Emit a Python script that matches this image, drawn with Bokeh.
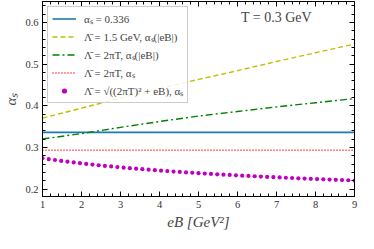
from bokeh.plotting import figure
from bokeh.models import Range1d, LinearAxis, Legend, LegendItem, Label, FixedTicker, CustomJSTickFormatter
from bokeh.embed import file_html
from bokeh.resources import INLINE

# Data
eb_int = [1, 2, 3, 4, 5, 6, 7, 8, 9]
alpha_const = [0.336] * 9
alpha_15gev = [0.370, 0.394, 0.418, 0.441, 0.463, 0.484, 0.506, 0.527, 0.548]
alpha_2piT_eB = [0.320, 0.333, 0.348, 0.362, 0.375, 0.386, 0.397, 0.407, 0.417]
alpha_2piT = [0.293] * 9

eb_dots = [1.00, 1.16, 1.32, 1.48, 1.64, 1.80, 1.96, 2.12, 2.28, 2.44,
           2.60, 2.76, 2.92, 3.08, 3.24, 3.40, 3.56, 3.72, 3.88, 4.04,
           4.20, 4.36, 4.52, 4.68, 4.84, 5.00, 5.16, 5.32, 5.48, 5.64,
           5.80, 5.96, 6.12, 6.28, 6.44, 6.60, 6.76, 6.92, 7.08, 7.24,
           7.40, 7.56, 7.72, 7.88, 8.04, 8.20, 8.36, 8.52, 8.68, 8.84, 9.00]
alpha_sqrt = [0.2740, 0.2717, 0.2696, 0.2675, 0.2656, 0.2637, 0.2620, 0.2603, 0.2586, 0.2570,
              0.2555, 0.2541, 0.2527, 0.2513, 0.2500, 0.2487, 0.2475, 0.2463, 0.2452, 0.2441,
              0.2430, 0.2419, 0.2409, 0.2399, 0.2390, 0.2380, 0.2371, 0.2362, 0.2353, 0.2345,
              0.2337, 0.2329, 0.2321, 0.2313, 0.2306, 0.2298, 0.2291, 0.2284, 0.2277, 0.2270,
              0.2264, 0.2257, 0.2251, 0.2245, 0.2239, 0.2233, 0.2227, 0.2221, 0.2215, 0.2210, 0.2204]

x_ticks = [1, 2, 3, 4, 5, 6, 7, 8, 9]
y_ticks = [0.2, 0.3, 0.4, 0.5, 0.6]

labels = ["αₛ = 0.336",
          "Λ̄ = 1.5 GeV, αₛ(|eB|)",
          "Λ̄ = 2πT, αₛ(|eB|)",
          "Λ̄ = 2πT, αₛ",
          "Λ̄ = √((2πT)² + eB), αₛ"]

FONT = "Liberation Serif"

p = figure(width=358, height=240,
           output_backend="svg", toolbar_location=None,
           x_range=Range1d(1, 9), y_range=Range1d(0.182, 0.65),
           min_border_left=36, min_border_top=1, min_border_right=4, min_border_bottom=44)
p.grid.visible = False
p.outline_line_color = "black"
p.outline_line_width = 1
p.background_fill_color = "white"
p.border_fill_color = "white"

r1 = p.line(eb_int, alpha_const, line_color="#1f77b4", line_width=1.6)
r2 = p.line(eb_int, alpha_15gev, line_color="#bfbf00", line_width=1.4, line_dash="5 3")
r3 = p.line(eb_int, alpha_2piT_eB, line_color="#008000", line_width=1.4, line_dash="7 3 2 3")
r4 = p.line(eb_int, alpha_2piT, line_color="#ff0000", line_width=1.4, line_dash="1 2")
r5 = p.scatter(eb_dots, alpha_sqrt, size=4.2, color="#bf00bf", line_color=None)

def style_axis(ax):
    ax.axis_line_color = "black"
    ax.major_tick_in = 5
    ax.major_tick_out = 0
    ax.minor_tick_in = 3
    ax.minor_tick_out = 0
    ax.major_tick_line_color = "black"
    ax.minor_tick_line_color = "black"
    ax.major_label_text_font = FONT
    ax.major_label_text_font_size = "10.5px"
    ax.major_label_text_color = "#333333"
    ax.major_label_standoff = 4
    ax.axis_label_text_font = FONT
    ax.axis_label_text_font_style = "italic"
    ax.axis_label_text_font_size = "15px"
    ax.axis_label_standoff = 3

x_minor = [1 + 0.2 * i for i in range(41)]
y_minor = [0.18 + 0.02 * i for i in range(25)]

p.xaxis.ticker = FixedTicker(ticks=x_ticks, minor_ticks=x_minor)
p.yaxis.ticker = FixedTicker(ticks=y_ticks, minor_ticks=y_minor)
style_axis(p.xaxis[0])
style_axis(p.yaxis[0])
p.xaxis.axis_label = "eB [GeV²]"
p.yaxis.axis_label = "αₛ"

blank = CustomJSTickFormatter(code="return '';")
ax_top = LinearAxis(ticker=FixedTicker(ticks=x_ticks, minor_ticks=x_minor), formatter=blank)
style_axis(ax_top)
ax_top.major_label_standoff = 0
p.add_layout(ax_top, "above")
ax_right = LinearAxis(ticker=FixedTicker(ticks=y_ticks, minor_ticks=y_minor), formatter=blank)
style_axis(ax_right)
ax_right.major_label_standoff = 0
p.add_layout(ax_right, "right")

legend = Legend(items=[LegendItem(label=labels[0], renderers=[r1]),
                       LegendItem(label=labels[1], renderers=[r2]),
                       LegendItem(label=labels[2], renderers=[r3]),
                       LegendItem(label=labels[3], renderers=[r4]),
                       LegendItem(label=labels[4], renderers=[r5])],
                location="top_left")
legend.label_text_font = FONT
legend.label_text_font_size = "11px"
legend.label_height = 13
legend.glyph_height = 13
legend.glyph_width = 24
legend.spacing = 3
legend.padding = 4
legend.margin = 5
legend.label_standoff = 8
legend.border_line_color = "#cccccc"
legend.border_line_alpha = 1
legend.background_fill_alpha = 0.85
p.add_layout(legend)

p.add_layout(Label(x=7.0, y=0.611, text="T = 0.3 GeV", text_font=FONT,
                   text_font_size="14px", text_align="center", text_baseline="middle"))

open("out.html", "w").write(file_html(p, INLINE))
